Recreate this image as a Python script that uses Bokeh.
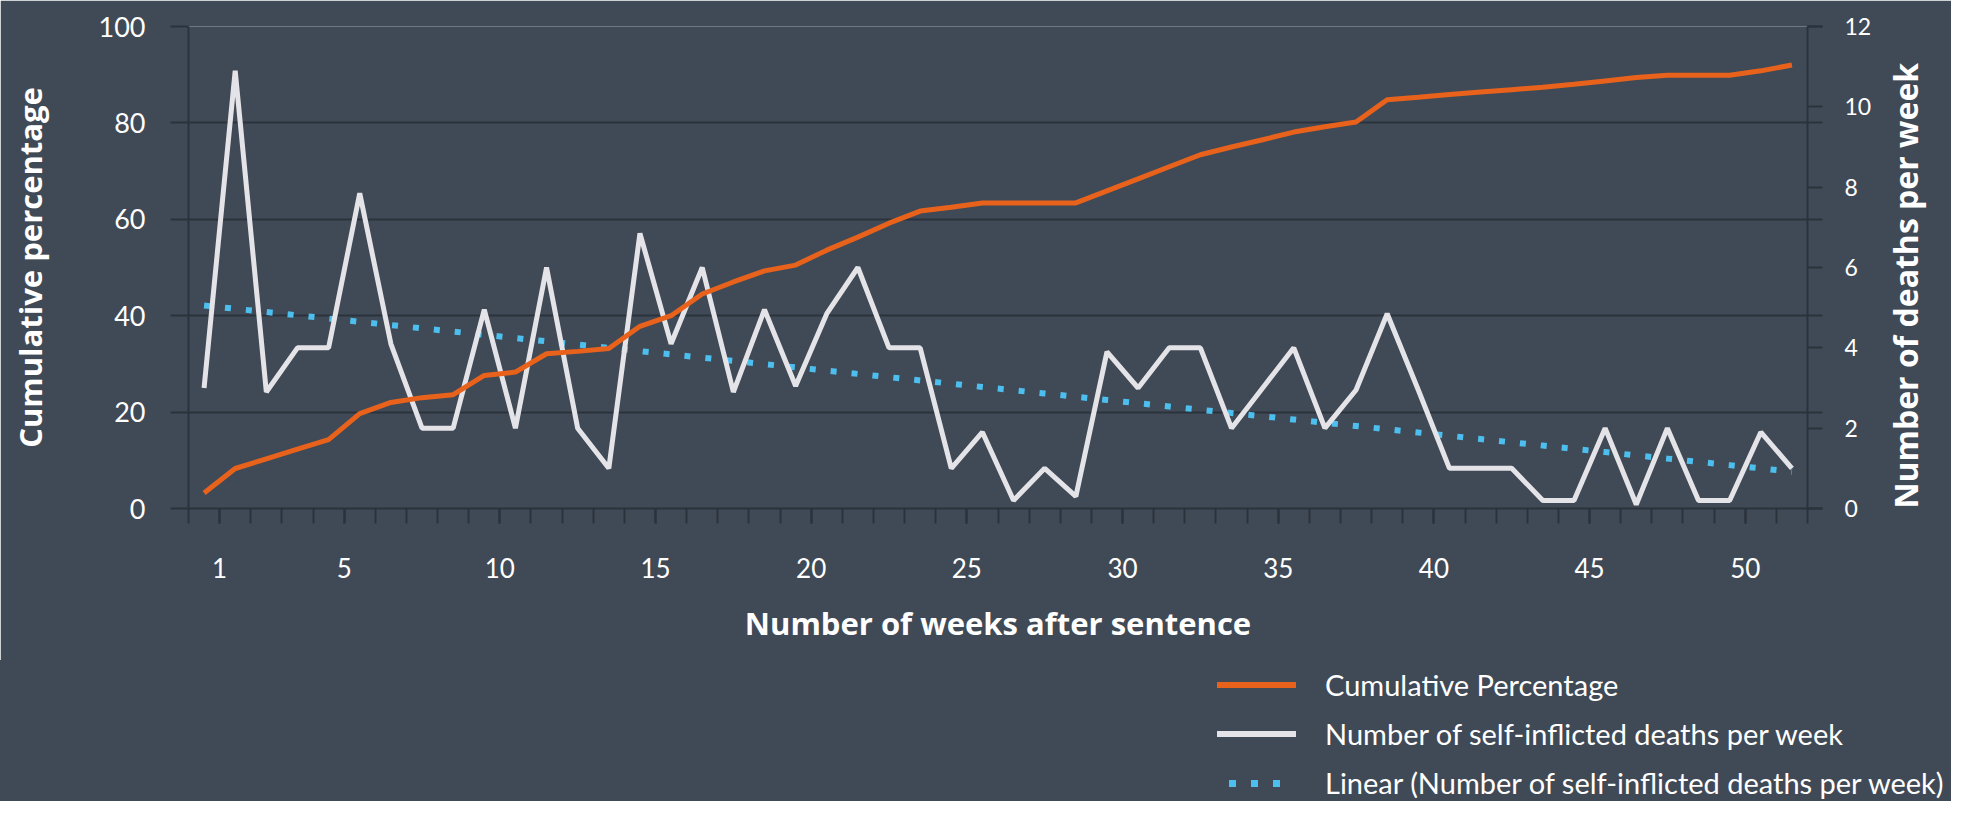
import math
import numpy as np
from bokeh.plotting import figure
from bokeh.layouts import column
from bokeh.models import Range1d, LinearAxis, FixedTicker, Div
from bokeh.embed import file_html
from bokeh.resources import INLINE

# ---------------- data ----------------
weeks = list(range(1, 53))
cumulative_pct = [3.2, 8.3, 10.3, 12.3, 14.3, 19.7, 22.0, 23.0, 23.6, 27.6,
                  28.3, 32.1, 32.6, 33.2, 37.8, 40.0, 44.5, 47.0, 49.3, 50.5,
                  53.6, 56.3, 59.2, 61.7, 62.5, 63.4, 63.4, 63.4, 63.4, 65.9,
                  68.4, 70.9, 73.4, 75.0, 76.5, 78.1, 79.2, 80.2, 84.8, 85.3,
                  85.9, 86.4, 86.9, 87.4, 88.0, 88.7, 89.4, 89.9, 89.9, 89.9,
                  90.8, 92.0]
deaths_per_week = [3, 10.9, 2.9, 4, 4, 7.85, 4.1, 2, 2, 4.95,
                   2, 6, 2, 1, 6.85, 4.1, 6, 2.9, 4.95, 3.05,
                   4.85, 6, 4, 4, 1, 1.9, 0.2, 1, 0.3, 3.9,
                   3, 4, 4, 2, 3, 4, 2, 2.95, 4.85, 2.95,
                   1, 1, 1, 0.2, 0.2, 2, 0.1, 2, 0.2, 0.2,
                   1.9, 1]
week_labels = [1, 5, 10, 15, 20, 25, 30, 35, 40, 45, 50]
pct_ticks = [0, 20, 40, 60, 80, 100]
death_ticks = [0, 2, 4, 6, 8, 10, 12]
legend_labels = ["Cumulative Percentage",
                 "Number of self-inflicted deaths per week",
                 "Linear (Number of self-inflicted deaths per week)"]

# linear trendline (least squares of the weekly deaths, like Excel's "Linear")
slope, intercept = np.polyfit(weeks, deaths_per_week, 1)
trend = [slope * w + intercept for w in weeks]

# ---------------- style ----------------
BG = "#404a56"
DARK = "#2a323c"
ORANGE = "#e8621c"
WHITE = "#e4e4e8"
BLUE = "#4dbfee"
TICK_FONT = "Lato"
TITLE_FONT = "Open Sans"
W = 1951
H_CHART = 660
H_LEGEND = 141

p = figure(width=W, height=H_CHART,
           x_range=Range1d(0.5, 52.5), y_range=Range1d(0, 100),
           output_backend="svg", toolbar_location=None,
           background_fill_color=BG, border_fill_color=BG,
           outline_line_color=None,
           min_border_left=188, min_border_right=142,
           min_border_top=26, min_border_bottom=152)
p.extra_y_ranges = {"deaths": Range1d(0, 12)}

# grid
p.xgrid.visible = False
p.ygrid.ticker = FixedTicker(ticks=pct_ticks)
p.ygrid.grid_line_color = DARK
p.ygrid.grid_line_width = 2

# bottom axis: tick marks at category boundaries, labels at selected weeks
xa = p.xaxis[0]
boundaries = [w - 0.5 for w in weeks] + [weeks[-1] + 0.5]
xa.ticker = FixedTicker(ticks=[w + 0.5 for w in week_labels], minor_ticks=boundaries)
xa.major_label_overrides = {w + 0.5: str(w) for w in week_labels}
xa.axis_line_color = DARK
xa.axis_line_width = 2
xa.major_tick_line_color = DARK
xa.minor_tick_line_color = DARK
xa.major_tick_line_width = 2
xa.minor_tick_line_width = 2
xa.major_tick_out = 15
xa.major_tick_in = 0
xa.minor_tick_out = 15
xa.minor_tick_in = 0
xa.major_label_text_font = TICK_FONT
xa.major_label_text_font_size = "26px"
xa.major_label_text_color = "white"
xa.major_label_standoff = 34
xa.axis_label = "Number of weeks after sentence"
xa.axis_label_text_font = TITLE_FONT
xa.axis_label_text_font_style = "bold"
xa.axis_label_text_font_size = "31px"
xa.axis_label_text_color = "white"
xa.axis_label_standoff = 21

# left axis
ya = p.yaxis[0]
ya.ticker = FixedTicker(ticks=pct_ticks)
ya.axis_line_color = DARK
ya.axis_line_width = 2
ya.major_tick_line_color = DARK
ya.major_tick_line_width = 2
ya.major_tick_out = 18
ya.major_tick_in = 0
ya.minor_tick_out = 0
ya.minor_tick_in = 0
ya.major_label_text_font = TICK_FONT
ya.major_label_text_font_size = "27px"
ya.major_label_text_color = "white"
ya.major_label_standoff = 25
ya.axis_label = "Cumulative percentage"
ya.axis_label_text_font = TITLE_FONT
ya.axis_label_text_font_style = "bold"
ya.axis_label_text_font_size = "31px"
ya.axis_label_text_color = "white"
ya.axis_label_standoff = 45

# right axis
yr = LinearAxis(y_range_name="deaths",
                ticker=FixedTicker(ticks=death_ticks,
                                   minor_ticks=[t * 12 / 100 for t in pct_ticks]))
yr.axis_line_color = DARK
yr.axis_line_width = 2
yr.major_tick_line_color = DARK
yr.minor_tick_line_color = DARK
yr.major_tick_line_width = 2
yr.minor_tick_line_width = 2
yr.major_tick_out = 15
yr.major_tick_in = 0
yr.minor_tick_out = 15
yr.minor_tick_in = 0
yr.major_label_text_font = TICK_FONT
yr.major_label_text_font_size = "23px"
yr.major_label_text_color = "white"
yr.major_label_standoff = 22
yr.axis_label = "Number of deaths per week"
yr.axis_label_text_font = TITLE_FONT
yr.axis_label_text_font_style = "bold"
yr.axis_label_text_font_size = "32px"
yr.axis_label_text_color = "white"
yr.axis_label_standoff = 31
try:
    yr.axis_label_orientation = math.pi / 2
    yr.axis_label_align = "start"
except Exception:
    pass
p.add_layout(yr, "right")

# ---------------- series ----------------
p.line(weeks, trend, y_range_name="deaths", line_color=BLUE, line_width=6,
       line_dash="6 15", line_cap="butt")
p.line(weeks, deaths_per_week, y_range_name="deaths", line_color=WHITE, line_width=5)
p.line(weeks, cumulative_pct, line_color=ORANGE, line_width=5)

# ---------------- legend (below the chart, right side) ----------------
sample_css = [
    f"left:1217px;width:79px;height:6px;background:{ORANGE};",
    f"left:1217px;width:79px;height:6px;background:{WHITE};",
    f"left:1229px;width:54px;height:7px;background:repeating-linear-gradient(to right,{BLUE} 0px,{BLUE} 7px,transparent 7px,transparent 22px);",
]
rows = []
for i, (lab, css) in enumerate(zip(legend_labels, sample_css)):
    cy = 25 + 49 * i
    rows.append(f'<div style="position:absolute;top:{cy - 3}px;{css}"></div>')
    rows.append(f'<div style="position:absolute;left:1325px;top:{cy - 17}px;height:34px;'
                f'line-height:34px;font-family:Lato;font-size:29px;color:#ffffff;'
                f'white-space:nowrap;">{lab}</div>')
legend_div = Div(text=f'<div style="position:relative;width:{W}px;height:{H_LEGEND}px;'
                      f'background:{BG};overflow:hidden;">' + "".join(rows) + "</div>",
                 width=W, height=H_LEGEND, margin=(0, 0, 0, 0),
                 styles={"background-color": BG})

layout = column(p, legend_div, spacing=0)
open("out.html", "w").write(file_html(layout, INLINE))
